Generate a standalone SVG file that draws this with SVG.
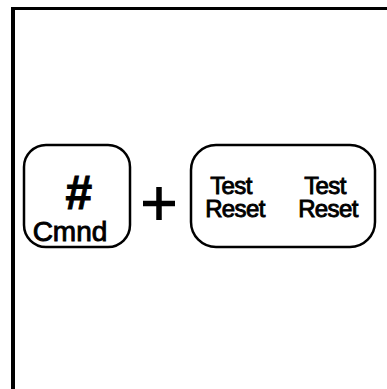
<svg xmlns="http://www.w3.org/2000/svg" width="387" height="389" viewBox="0 0 387 389">
<style>
.key{fill:#fff;stroke:#000;stroke-width:2.5}
.lbl{font-family:"Liberation Sans",Arial,sans-serif;fill:#000;stroke:#000;stroke-width:0.9;text-anchor:middle}
</style>
<rect width="387" height="389" fill="#fff"/>
<g id="frame" stroke="#000" fill="none">
<path d="M13,389 V8.5" stroke-width="4"/>
<path d="M11,8.5 H387" stroke-width="3"/>
</g>
<g id="cmnd-key">
<rect class="key" x="24" y="145" width="106" height="102" rx="22"/>
<text class="lbl" x="78" y="209" font-size="48" font-style="italic" font-weight="bold" stroke-width="0.5">#</text>
<text class="lbl" x="70" y="240.5" font-size="28">Cmnd</text>
</g>
<g id="plus" stroke="#000" stroke-width="5.5">
<line x1="143" y1="203.5" x2="175" y2="203.5"/>
<line x1="159" y1="187" x2="159" y2="220"/>
</g>
<g id="test-reset-key">
<rect class="key" x="191" y="145" width="184" height="102" rx="25"/>
<text class="lbl" font-size="24" letter-spacing="-0.6"><tspan x="231" y="194">Test</tspan><tspan x="235" y="217">Reset</tspan></text>
<text class="lbl" font-size="24" letter-spacing="-0.6"><tspan x="325" y="194">Test</tspan><tspan x="328" y="217">Reset</tspan></text>
</g>
</svg>
